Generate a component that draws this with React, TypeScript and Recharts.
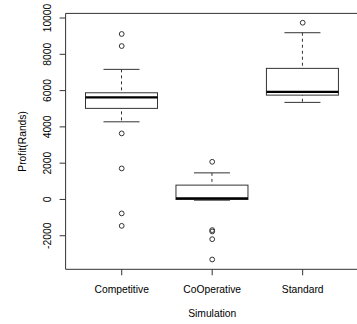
import React from "react";
import { ComposedChart, Bar, Scatter, XAxis, YAxis } from "recharts";

const categories = ["Competitive", "CoOperative", "Standard"];
const lowerWhisker = [4280, -40, 5350];
const q1 = [5020, 0, 5750];
const median = [5630, 60, 5935];
const q3 = [5880, 790, 7225];
const upperWhisker = [7170, 1465, 9190];
const outliers = [
  [9120, 8455, 3640, 1710, -770, -1455],
  [2075, -1690, -1765, -2190, -3310],
  [9740],
];
const yTicks = [-2000, 0, 2000, 4000, 6000, 8000, 10000];

const rows = categories.map((name, i) => ({
  name,
  lo: lowerWhisker[i],
  q1: q1[i],
  med: median[i],
  q3: q3[i],
  hi: upperWhisker[i],
}));

const outlierPoints = outliers.flatMap((vals, i) => vals.map((v) => ({ pos: i + 1, value: v })));

const font = "'Liberation Sans', Arial, sans-serif";
const ink = "#333";
const pad = { left: 10.9, right: 10.9 };

const edges = (p: any) => {
  const top = Math.min(p.y, p.y + p.height);
  const bot = Math.max(p.y, p.y + p.height);
  return { top, bot };
};

const WhiskerShape = (p: any) => {
  const { top, bot } = edges(p);
  const cx = p.x + p.width / 2;
  return (
    <g>
      <line x1={cx} x2={cx} y1={top} y2={bot} stroke={ink} strokeDasharray="3 3" />
      <line x1={p.x} x2={p.x + p.width} y1={top} y2={top} stroke={ink} />
      <line x1={p.x} x2={p.x + p.width} y1={bot} y2={bot} stroke={ink} />
    </g>
  );
};

const BoxShape = (p: any) => {
  const { top, bot } = edges(p);
  return <rect x={p.x} y={top} width={p.width} height={bot - top} fill="#fff" stroke={ink} />;
};

const MedianShape = (p: any) => {
  const { top } = edges(p);
  return <line x1={p.x} x2={p.x + p.width} y1={top} y2={top} stroke="#000" strokeWidth={2.3} />;
};

const Dot = (p: any) => <circle cx={p.cx} cy={p.cy} r={2.4} fill="none" stroke={ink} />;

const YTick = ({ x, y, payload }: any) => (
  <text transform={`translate(${x - 6.8},${y}) rotate(-90)`} textAnchor="middle" fontSize={10.3} fontFamily={font} fill="#000">
    {payload.value}
  </text>
);

const XTick = ({ x, y, payload }: any) => (
  <text x={x} y={y} dy={15.5} textAnchor="middle" fontSize={10.3} fontFamily={font} fill="#000">
    {payload.value}
  </text>
);

export default function App() {
  return (
    <div style={{ position: "absolute", left: 0, top: 0, width: 357, height: 324, overflow: "hidden", background: "#fff" }}>
      <ComposedChart width={362} height={324} data={rows} margin={{ top: 12.4, right: 3.2, bottom: 0, left: 0 }}>
        <XAxis
          xAxisId="main"
          dataKey="name"
          padding={pad}
          height={54.7}
          stroke={ink}
          tickSize={6}
          tick={<XTick />}
          label={{ value: "Simulation", position: "insideBottom", offset: 7, fontSize: 10.3, fontFamily: font, fill: "#000" }}
        />
        <XAxis xAxisId="w" dataKey="name" padding={pad} height={0} hide />
        <XAxis xAxisId="m" dataKey="name" padding={pad} height={0} hide />
        <XAxis
          xAxisId="s"
          type="number"
          dataKey="pos"
          orientation="top"
          domain={[0.38, 3.62]}
          allowDataOverflow
          height={1}
          tick={false}
          tickLine={false}
          axisLine={{ stroke: ink }}
        />
        <YAxis
          type="number"
          domain={[-3850, 10255]}
          allowDataOverflow
          ticks={yTicks}
          width={65.6}
          tickSize={6}
          stroke={ink}
          tick={<YTick />}
          label={{
            content: () => (
              <text transform="translate(25.5,141.4) rotate(-90)" textAnchor="middle" fontSize={10.3} fontFamily={font} fill="#000">
                Profit(Rands)
              </text>
            ),
          }}
        />
        <Bar xAxisId="w" dataKey={(d: any) => [d.lo, d.hi]} barSize={36} shape={<WhiskerShape />} isAnimationActive={false} />
        <Bar xAxisId="main" dataKey={(d: any) => [d.q1, d.q3]} barSize={72} shape={<BoxShape />} isAnimationActive={false} />
        <Bar xAxisId="m" dataKey={(d: any) => [d.q1, d.med]} barSize={72} shape={<MedianShape />} isAnimationActive={false} />
        <Scatter xAxisId="s" data={outlierPoints} dataKey="value" shape={<Dot />} isAnimationActive={false} />
      </ComposedChart>
    </div>
  );
}
